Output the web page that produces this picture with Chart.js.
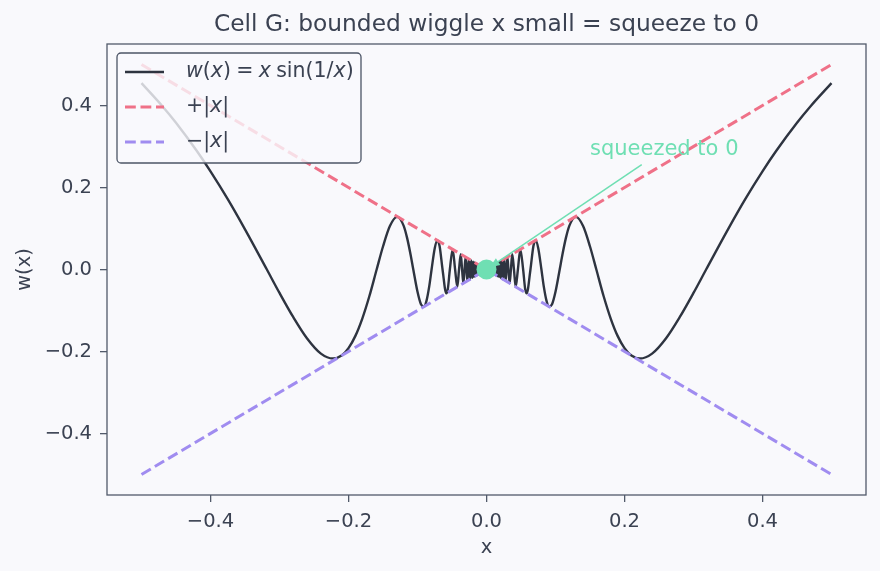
<!DOCTYPE html>
<html>
<head>
<meta charset="utf-8">
<script src="https://cdn.jsdelivr.net/npm/chart.js@4.4.0/dist/chart.umd.min.js"></script>
<style>
  html, body { margin: 0; padding: 0; background: #f9f9fc; }
  #wrap { width: 880px; height: 571px; }
</style>
</head>
<body>
<div id="wrap"><canvas id="chart" width="880" height="571"></canvas></div>
<script>
// Right half of the curve w(x) = x sin(1/x) (x > 0).
// w is even, so the left half is the same list mirrored.
const curveX = [0.5, 0.47, 0.45, 0.42, 0.4, 0.375, 0.35, 0.3183, 0.3, 0.28, 0.26, 0.24, 0.2225,
  0.21, 0.2, 0.19, 0.18, 0.17, 0.1592, 0.15, 0.14, 0.1295, 0.12, 0.115, 0.11, 0.1061, 0.1, 0.095,
  0.0906, 0.087, 0.083, 0.0796, 0.075, 0.0712, 0.068, 0.0637, 0.0583, 0.056, 0.0531, 0.049, 0.0455,
  0.0423, 0.0398, 0.0373, 0.0354, 0.0335, 0.0318, 0.0303, 0.0289, 0.0277, 0.0265, 0.0255, 0.0236,
  0.0220, 0.0205, 0.0193, 0.0182, 0.0172, 0.0163, 0.0155, 0.0148, 0.0141, 0.0135, 0.0129, 0.0124,
  0.0120, 0.0116, 0.0112, 0.0108];
const curveY = [0.4546, 0.3989, 0.3579, 0.2895, 0.2394, 0.1716, 0.0980, 0, -0.0572, -0.1164, -0.1683, -0.2052, -0.2172,
  -0.2097, -0.1918, -0.1619, -0.1196, -0.0665, 0, 0.0561, 0.1061, 0.1284, 0.1065, 0.0765, 0.0360, 0, -0.0544, -0.0847,
  -0.0905, -0.0764, -0.0411, 0, 0.0521, 0.0710, 0.0573, 0, -0.0581, -0.0469, 0, 0.0490, 0,
  -0.0422, 0, 0.0371, 0, -0.0335, 0, 0.0303, 0, -0.0277, 0, 0.0255, -0.0236,
  0.0220, -0.0205, 0.0193, -0.0182, 0.0172, -0.0163, 0.0155, -0.0148, 0.0141, -0.0135, 0.0129, -0.0124,
  0.0120, -0.0116, 0.0112, -0.0108];

// Envelope lines +|x| and -|x|
const boundX = [-0.5, 0, 0.5];
const upperY = [0.5, 0, 0.5];
const lowerY = [-0.5, 0, -0.5];

// The limit point and its note
const limitPoint = [0, 0];
const noteText = 'squeezed to 0';
const noteAt = [0.15, 0.28];
const noteArrowFrom = [0.225, 0.256];

const xTicks = [-0.4, -0.2, 0.0, 0.2, 0.4];
const yTicks = [-0.4, -0.2, 0.0, 0.2, 0.4];
const legendLabels = ['w(x) = x sin(1/x)', '+|x|', '\u2212|x|'];

const TEXT = '#3b4252';
const SPINE = '#525a6a';
const CURVE = '#2e3440';
const RED = '#ef7188';
const PURPLE = '#a08cf0';
const GREEN = '#6fdfb3';
const FONT = '"DejaVu Sans"';

Chart.defaults.font.family = FONT;
Chart.defaults.color = TEXT;

// build the point table from the arrays
const curvePoints = [];
for (let i = 0; i < curveX.length; i++) curvePoints.push({x: -curveX[i], y: curveY[i]});
for (let i = curveX.length - 1; i >= 0; i--) curvePoints.push({x: curveX[i], y: curveY[i]});
const upperPoints = boundX.map((x, i) => ({x: x, y: upperY[i]}));
const lowerPoints = boundX.map((x, i) => ({x: x, y: lowerY[i]}));

function fmt(v) {
  const s = Math.abs(v).toFixed(1);
  return v < -1e-9 ? '\u2212' + s : s;
}

// math-ish text: w and x in italic
function drawMath(ctx, text, x, y, size) {
  let cx = x;
  for (const ch of text) {
    if (ch === ' ') { cx += size * 0.26; continue; }
    const italic = ch === 'w' || ch === 'x';
    ctx.font = (italic ? 'italic ' : '') + size + 'px ' + FONT;
    ctx.fillText(ch, cx, y);
    cx += ctx.measureText(ch).width;
  }
}

const decor = {
  id: 'decor',
  beforeDraw(chart) {
    const ctx = chart.ctx;
    ctx.save();
    ctx.fillStyle = '#f9f9fc';
    ctx.fillRect(0, 0, chart.width, chart.height);
    ctx.restore();
  },
  afterDatasetsDraw(chart) {
    const ctx = chart.ctx;
    const xs = chart.scales.x, ys = chart.scales.y;
    const a = chart.chartArea;
    ctx.save();

    // note arrow
    const x0 = xs.getPixelForValue(noteArrowFrom[0]), y0 = ys.getPixelForValue(noteArrowFrom[1]);
    let x1 = xs.getPixelForValue(limitPoint[0]), y1 = ys.getPixelForValue(limitPoint[1]);
    const dx = x1 - x0, dy = y1 - y0, len = Math.hypot(dx, dy);
    const ux = dx / len, uy = dy / len;
    x1 -= ux * 4; y1 -= uy * 4;
    ctx.strokeStyle = GREEN;
    ctx.fillStyle = GREEN;
    ctx.lineWidth = 1.5;
    ctx.beginPath();
    ctx.moveTo(x0, y0);
    ctx.lineTo(x1 - ux * 6, y1 - uy * 6);
    ctx.stroke();
    ctx.beginPath();
    ctx.moveTo(x1, y1);
    ctx.lineTo(x1 - ux * 10 - uy * 4, y1 - uy * 10 + ux * 4);
    ctx.lineTo(x1 - ux * 10 + uy * 4, y1 - uy * 10 - ux * 4);
    ctx.closePath();
    ctx.fill();

    // note text
    ctx.font = '21px ' + FONT;
    ctx.textAlign = 'left';
    ctx.textBaseline = 'alphabetic';
    ctx.fillText(noteText, xs.getPixelForValue(noteAt[0]), ys.getPixelForValue(noteAt[1]));

    // spines
    ctx.strokeStyle = SPINE;
    ctx.lineWidth = 1.3;
    ctx.strokeRect(a.left, a.top, a.right - a.left, a.bottom - a.top);

    // legend
    const bx = a.left + 10, by = a.top + 9, bw = 244, bh = 110;
    ctx.beginPath();
    ctx.roundRect(bx, by, bw, bh, 4);
    ctx.fillStyle = 'rgba(249,249,252,0.8)';
    ctx.fill();
    ctx.strokeStyle = '#4c5566';
    ctx.lineWidth = 1.3;
    ctx.stroke();

    const rows = [by + 19, by + 54, by + 89];
    const styles = [
      {c: CURVE, w: 2.4, d: []},
      {c: RED, w: 3, d: [10.8, 4.7]},
      {c: PURPLE, w: 3, d: [10.8, 4.7]}
    ];
    rows.forEach((ry, i) => {
      ctx.strokeStyle = styles[i].c;
      ctx.lineWidth = styles[i].w;
      ctx.setLineDash(styles[i].d);
      ctx.beginPath();
      ctx.moveTo(bx + 8, ry);
      ctx.lineTo(bx + 47, ry);
      ctx.stroke();
      ctx.setLineDash([]);
      ctx.fillStyle = TEXT;
      ctx.textBaseline = 'middle';
      drawMath(ctx, legendLabels[i], bx + 69, ry, 20.5);
    });
    ctx.restore();
  },
  afterDraw(chart) {
    const ctx = chart.ctx;
    const a = chart.chartArea;
    ctx.save();
    ctx.font = '23.3px ' + FONT;
    ctx.fillStyle = TEXT;
    ctx.textAlign = 'center';
    ctx.textBaseline = 'alphabetic';
    ctx.fillText('Cell G: bounded wiggle x small = squeeze to 0', (a.left + a.right) / 2, 31);
    ctx.restore();
  }
};

function axis(ticks, titleText, titlePad, fixSize) {
  return {
    type: 'linear',
    min: -0.55,
    max: 0.55,
    afterBuildTicks: s => { s.ticks = ticks.map(v => ({value: v})); },
    afterFit: fixSize,
    border: {display: false},
    grid: {drawOnChartArea: false, drawTicks: true, tickLength: 7, color: SPINE, lineWidth: 1.3},
    ticks: {
      font: {size: 19.5},
      color: TEXT,
      padding: 8,
      maxRotation: 0,
      callback: v => fmt(v)
    },
    title: {display: true, text: titleText, font: {size: 19.5}, color: TEXT, padding: titlePad}
  };
}

new Chart(document.getElementById('chart'), {
  type: 'scatter',
  data: {
    datasets: [
      {label: 'dot', data: [{x: limitPoint[0], y: limitPoint[1]}], pointRadius: 10,
        pointBackgroundColor: GREEN, pointBorderWidth: 0, order: 1},
      {label: legendLabels[2], data: lowerPoints, showLine: true, borderColor: PURPLE, borderWidth: 3,
        borderDash: [10.8, 4.7], pointRadius: 0, order: 2},
      {label: legendLabels[1], data: upperPoints, showLine: true, borderColor: RED, borderWidth: 3,
        borderDash: [10.8, 4.7], pointRadius: 0, order: 3},
      {label: legendLabels[0], data: curvePoints, showLine: true, borderColor: CURVE, borderWidth: 2.4,
        pointRadius: 0, cubicInterpolationMode: 'monotone', order: 4}
    ]
  },
  options: {
    responsive: false,
    animation: false,
    events: [],
    layout: {padding: {top: 44, right: 14, left: 0, bottom: 0}},
    plugins: {legend: {display: false}, tooltip: {enabled: false}, title: {display: false}},
    scales: {
      x: axis(xTicks, 'x', {top: 0, bottom: 11}, s => { s.height = 76; }),
      y: axis(yTicks, 'w(x)', {top: 13, bottom: 0}, s => { s.width = 107; })
    }
  },
  plugins: [decor]
});
</script>
</body>
</html>
